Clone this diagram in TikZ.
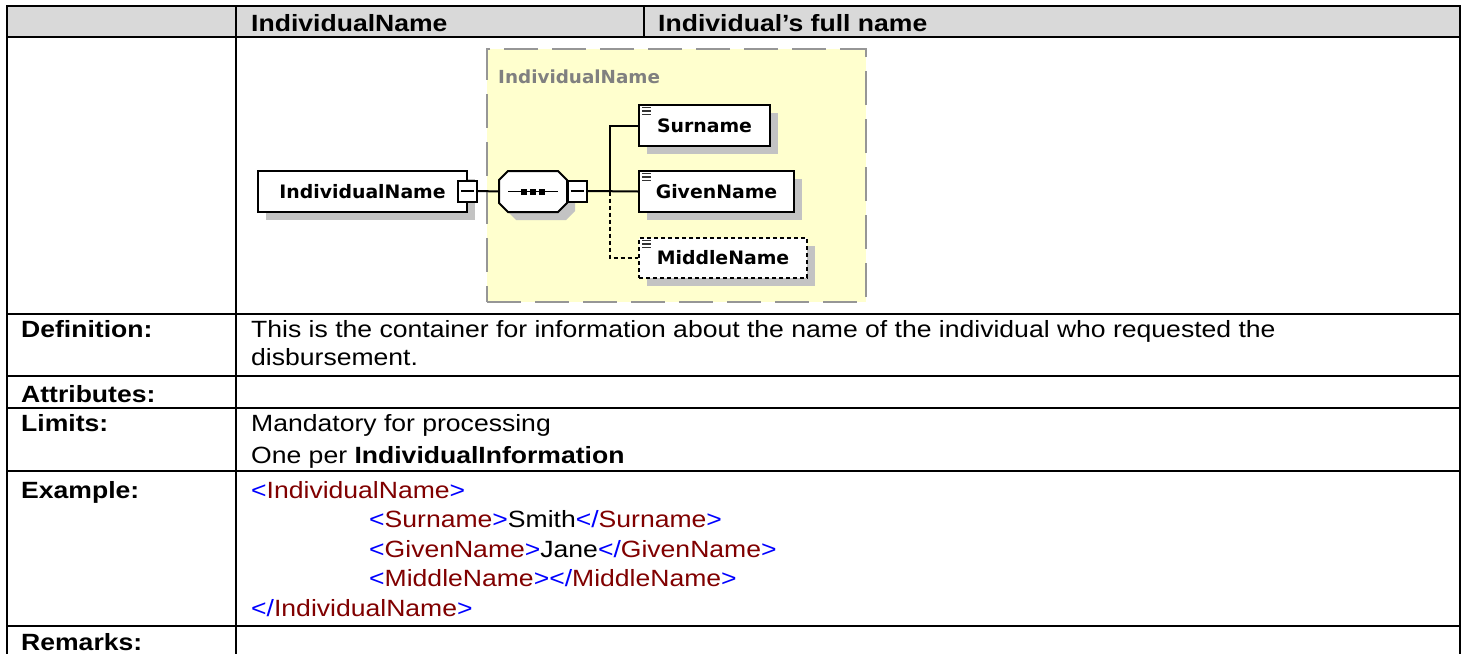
\documentclass[tikz,border=0pt]{standalone}
\usepackage{fontspec}
\setmainfont[FakeStretch=1.13]{Liberation Sans}
\newfontfamily\diagfont[FakeStretch=1.02]{DejaVu Sans}
\usetikzlibrary{calc,shadows}
\definecolor{hdrgrey}{RGB}{217,217,217}
\definecolor{yel}{RGB}{255,255,206}
\definecolor{shadowgrey}{RGB}{195,195,195}
\definecolor{dashgrey}{RGB}{150,150,150}
\definecolor{titlegrey}{RGB}{128,128,128}
\definecolor{xmlblue}{RGB}{0,0,255}
\definecolor{xmlred}{RGB}{128,0,0}
\newcommand{\xmlB}[1]{{\color{xmlblue}#1}}
\newcommand{\xmlR}[1]{{\color{xmlred}#1}}
\begin{document}
\begin{tikzpicture}[x=1pt,y=-1pt,
  tbl/.style={line width=2.7pt, line cap=rect},
  txt/.style={anchor=base west, inner sep=0pt, font=\fontsize{23.5}{28}\selectfont},
  lbl/.style={anchor=base west, inner sep=0pt, font=\fontsize{23.5}{28}\selectfont\bfseries},
  dfont/.style={font=\diagfont\bfseries\fontsize{18.5}{20}\selectfont},
  elbox/.style={draw, line width=2pt, fill=white, inner sep=0pt, dfont,
    drop shadow={shadow xshift=8pt, shadow yshift=-8pt, fill=shadowgrey, opacity=1}},
  minusbox/.style={draw, line width=2pt, fill=white, minimum width=19pt, minimum height=21pt, inner sep=0pt},
  conn/.style={line width=2pt},
  shadowfill/.style={fill=shadowgrey},
  octdraw/.style={draw, fill=white, line width=2pt},
  yelbox/.style={draw=dashgrey, fill=yel, line width=2pt, dash pattern=on 34pt off 14pt, inner sep=0pt},
  icon/.style={line width=1.1pt, black!80}
]
\useasboundingbox (0,0) rectangle (1466,653);
% ---------- table ----------
\fill[hdrgrey] (7,6) rectangle (1460,37);
\foreach \yy in {6,37,314,376,408,471,626}
  \draw[tbl] (7,\yy) -- (1460,\yy);
\draw[tbl] (7,6) -- (7,653);
\draw[tbl] (1460,6) -- (1460,653);
\draw[tbl] (236,6) -- (236,653);
\draw[tbl] (644,6) -- (644,37);
% header texts
\node[lbl] (h1) at (251,31) {IndividualName};
\node[lbl] (h2) at (658,31) {Individual’s full name};
% row labels
\node[lbl] (ldef) at (21,337) {Definition:};
\node[lbl] (latt) at (21,402) {Attributes:};
\node[lbl] (llim) at (21,431) {Limits:};
\node[lbl] (lex) at (21,498) {Example:};
\node[lbl] (lrem) at (21,650) {Remarks:};
% contents
\node[txt] (d1) at (251,337) {This is the container for information about the name of the individual who requested the};
\node[txt] (d2) at (251,365) {disbursement.};
\node[txt] (m1t) at (251,431) {Mandatory for processing};
\node[txt] (m2t) at (251,463) {One per \textbf{IndividualInformation}};
\node[txt] (x1) at (251,498) {\xmlB{<}\xmlR{IndividualName}\xmlB{>}};
\node[txt] (x2) at (369,527.5) {\xmlB{<}\xmlR{Surname}\xmlB{>}Smith\xmlB{</}\xmlR{Surname}\xmlB{>}};
\node[txt] (x3) at (369,557) {\xmlB{<}\xmlR{GivenName}\xmlB{>}Jane\xmlB{</}\xmlR{GivenName}\xmlB{>}};
\node[txt] (x4) at (369,586.5) {\xmlB{<}\xmlR{MiddleName}\xmlB{></}\xmlR{MiddleName}\xmlB{>}};
\node[txt] (x5) at (251,616) {\xmlB{</}\xmlR{IndividualName}\xmlB{>}};
% ---------- diagram ----------
\node[yelbox, minimum width=379pt, minimum height=253pt] (grp) at (676.5,175.5) {};
\node[anchor=base west, inner sep=0pt, font=\diagfont\bfseries\fontsize{18}{20}\selectfont, text=titlegrey] (grptitle) at (498,83) {IndividualName};
% main element
\node[elbox, minimum width=209pt, minimum height=41pt] (main) at (362.5,191.5) {IndividualName};
\node[minusbox] (mn1) at (467.5,191) {};
\draw[line width=1.5pt] ($(mn1.west)+(4,0)$) -- ($(mn1.east)+(-4,0)$);
% sequence compositor
\node[minimum width=68pt, minimum height=41pt, inner sep=0pt] (seq) at (533,191.5) {};
\foreach \ox/\oy/\st in {8/8/shadowfill, 0/0/octdraw}
  \path[\st] (499+\ox,180+\oy) -- (508+\ox,171+\oy) -- (558+\ox,171+\oy) -- (567+\ox,180+\oy)
     -- (567+\ox,203+\oy) -- (558+\ox,212+\oy) -- (508+\ox,212+\oy) -- (499+\ox,203+\oy) -- cycle;
\draw[line width=1.5pt] ($(seq.center)+(-25,0)$) -- ($(seq.center)+(25,0)$);
\foreach \dx in {-9,0,9}
  \fill ($(seq.center)+(\dx-3,-3)$) rectangle ($(seq.center)+(\dx+3,3)$);
\node[minusbox] (mn2) at (577,191) {};
\draw[line width=1.5pt] ($(mn2.west)+(4,0)$) -- ($(mn2.east)+(-4,0)$);
% child elements
\node[elbox, minimum width=131pt, minimum height=41pt] (sur) at (704.5,125.5) {Surname};
\node[elbox, minimum width=155pt, minimum height=41pt] (giv) at (716.5,191.5) {GivenName};
\node[elbox, minimum width=168pt, minimum height=40pt, dash pattern=on 4pt off 3pt] (mid) at (723,258) {MiddleName};
\foreach \n in {sur,giv,mid}
  \foreach \dy in {3.5,7,10.5}
    \draw[icon] ($(\n.north west)+(4,\dy)$) -- ++(9,0);
% connectors
\coordinate (bus) at (610,191.5);
\draw[conn] (mn1.east) -- (seq.west);
\draw[conn] (mn2.east) -- (giv.west);
\draw[conn] (bus) |- (sur.west);
\draw[conn, dash pattern=on 4pt off 3pt] (bus) |- (mid.west);
\end{tikzpicture}
\end{document}
